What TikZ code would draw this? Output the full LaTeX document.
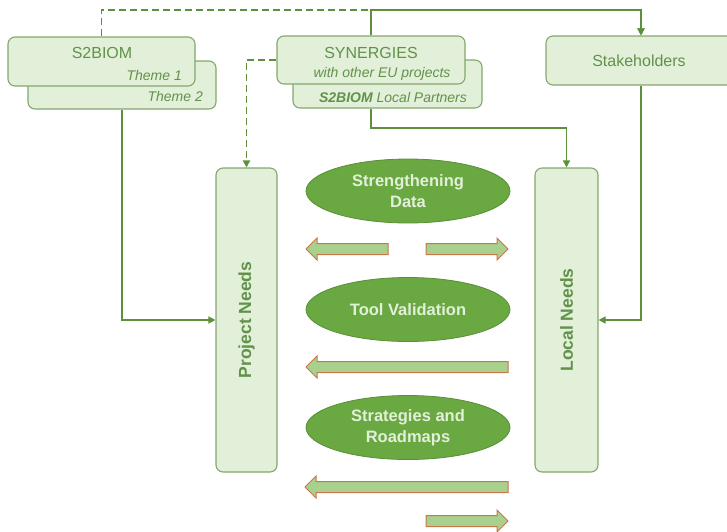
\documentclass[tikz,border=0pt]{standalone}
\usepackage{fontspec}
\setmainfont{Liberation Sans}
\usetikzlibrary{arrows.meta,shapes.geometric}
\definecolor{boxfill}{HTML}{E2EFD9}
\definecolor{boxline}{HTML}{84A86C}
\definecolor{boxtext}{HTML}{62924A}
\definecolor{linkc}{HTML}{5E8F3C}
\definecolor{ellfill}{HTML}{6AA842}
\definecolor{elltext}{HTML}{E2F0D9}
\definecolor{barfill}{HTML}{A9D18E}
\definecolor{barline}{HTML}{C8764A}
\tikzset{
  gbox/.style={draw=boxline, fill=boxfill, rounded corners=7pt, line width=1.1pt, inner sep=0pt},
  btext/.style={text=boxtext, font=\fontsize{16}{18}\selectfont, inner sep=0pt},
  itext/.style={text=boxtext, font=\fontsize{14}{16}\selectfont\itshape, inner sep=0pt},
  ntext/.style={text=boxtext, font=\fontsize{17.5}{19}\selectfont\bfseries, inner sep=0pt, rotate=90},
  gell/.style={ellipse, draw=ellfill!85!black, fill=ellfill, line width=0.8pt, minimum width=204pt, minimum height=64pt, inner sep=0pt,
     text=elltext, font=\fontsize{16.5}{21}\selectfont\bfseries, align=center},
  link/.style={draw=linkc, line width=1.5pt, -{Triangle[length=7pt,width=7pt]}},
  dlink/.style={link, line width=1.8pt, dash pattern=on 7pt off 4pt},
  blockarr/.style={draw=barline, fill=barfill, line width=1pt, line join=miter}
}
\begin{document}
\begin{tikzpicture}[x=1pt,y=-1pt]
\useasboundingbox (0,0) rectangle (727,531);
% boxes (back first)
\node[gbox, minimum width=188pt, minimum height=48pt] (s2b2) at (122,85) {};
\node[gbox, minimum width=187pt, minimum height=49pt] (s2b) at (101.5,61.5) {};
\node[gbox, minimum width=189pt, minimum height=48pt] (syn2) at (387.5,84) {};
\node[gbox, minimum width=188pt, minimum height=48pt] (syn) at (371,60) {};
\node[gbox, minimum width=190pt, minimum height=49pt] (stake) at (641,60.5) {};
\node[gbox, minimum width=61pt, minimum height=304pt] (pn) at (246.5,320) {};
\node[gbox, minimum width=63pt, minimum height=304pt] (ln) at (566.5,320) {};
% texts
\node[btext] (t1) at (102,53) {S2BIOM};
\node[itext, anchor=east] (t2) at (182,75) {Theme 1};
\node[itext, anchor=east] (t3) at (203,96.5) {Theme 2};
\node[btext] (t4) at (371,52.5) {SYNERGIES};
\node[itext] (t5) at (382,74) {with other EU projects};
\node[itext] (t6) at (393,97.5) {\bfseries S2BIOM\mdseries{} Local Partners};
\node[btext] (t7) at (639,61) {Stakeholders};
\node[ntext] (t8) at (246.5,320) {Project Needs};
\node[ntext] (t9) at (566.5,320) {Local Needs};
% ellipses
\node[gell] (e1) at (408,191) {Strengthening\\Data};
\node[gell] (e2) at (408,309.5) {Tool Validation};
\node[gell] (e3) at (408,427.5) {Strategies and\\Roadmaps};
% connectors
\draw[link] (syn.north) -- (371,10) -| (stake.north);
\draw[dlink] (s2b.north) -- (101.5,10) -- (641,10) -- (stake.north);
\draw[dlink] (syn.west) -| (pn.north);
\draw[link] (syn2.south -| syn.north) -- (371,128) -| (ln.north);
\draw[link] (s2b2.south) |- (pn.west);
\draw[link] (stake.south) |- (ln.east);
% block arrows
\def\H{11}\def\h{5.5}\def\L{11}
\draw[blockarr] (306,249) -- (306+\L,249-\H) -- (306+\L,249-\h) -- (388,249-\h) -- (388,249+\h) -- (306+\L,249+\h) -- (306+\L,249+\H) -- cycle;
\draw[blockarr] (508,249) -- (508-\L,249-\H) -- (508-\L,249-\h) -- (426,249-\h) -- (426,249+\h) -- (508-\L,249+\h) -- (508-\L,249+\H) -- cycle;
\draw[blockarr] (306,367) -- (306+\L,367-\H) -- (306+\L,367-\h) -- (508,367-\h) -- (508,367+\h) -- (306+\L,367+\h) -- (306+\L,367+\H) -- cycle;
\draw[blockarr] (305,487) -- (305+\L,487-\H) -- (305+\L,487-\h) -- (508,487-\h) -- (508,487+\h) -- (305+\L,487+\h) -- (305+\L,487+\H) -- cycle;
\draw[blockarr] (508,521) -- (508-\L,521-\H) -- (508-\L,521-\h) -- (426,521-\h) -- (426,521+\h) -- (508-\L,521+\h) -- (508-\L,521+\H) -- cycle;
\end{tikzpicture}
\end{document}
